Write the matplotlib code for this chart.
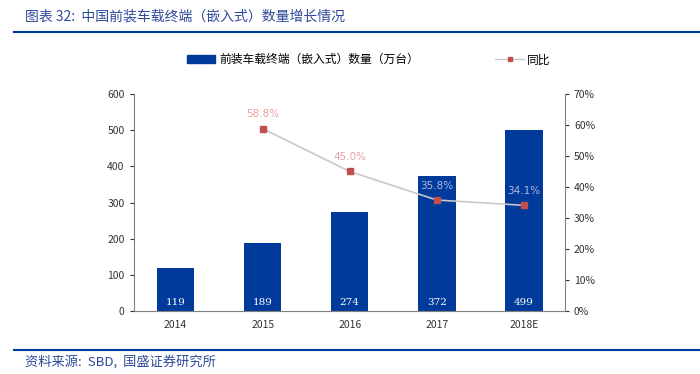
import numpy as np
import matplotlib.pyplot as plt
from matplotlib.patches import Patch
from matplotlib.lines import Line2D

plt.rcParams['font.family'] = ['Noto Sans CJK SC', 'DejaVu Sans']

years = ['2014', '2015', '2016', '2017', '2018E']
volume = [119, 189, 274, 372, 499]
yoy = [None, 58.8, 45.0, 35.8, 34.1]

bar_c = '#003A9B'
fig = plt.figure(figsize=(7, 3.74), dpi=100)
ax = fig.add_axes([0.191, 0.168, 0.616, 0.581])

x = np.arange(len(years))
ax.bar(x, volume, width=0.43, color=bar_c, zorder=2)
for i, v in enumerate(volume):
    ax.text(x[i], 12, str(v), ha='center', va='bottom', color='white', fontsize=7.5,
            family='DejaVu Serif')

ax.set_ylim(0, 600)
ax.set_yticks(range(0, 601, 100))
ax.set_xlim(-0.48, len(years) - 0.53)
ax.set_xticks(x)
ax.set_xticklabels(years)
for s in ['top', 'right']:
    ax.spines[s].set_visible(False)
for s in ['left', 'bottom']:
    ax.spines[s].set_color('#808080')
ax.tick_params(axis='both', labelsize=7.5, colors='#333333', length=3)
ax.tick_params(axis='x', length=0, pad=6)

ax2 = ax.twinx()
xs = x[1:]
ys = np.array(yoy[1:], dtype=float)
ax2.plot(xs, ys, color='#C8C8C8', lw=1.2, marker='s', markersize=4,
         markerfacecolor='#C0504D', markeredgecolor='#C0504D', zorder=3)
lab_c = ['#E8A0A0', '#E8A0A0', '#B0B8E0', '#B0B8E0']
for xi, yi, c in zip(xs, ys, lab_c):
    ax2.text(xi, yi + 3, f'{yi:.1f}%', ha='center', va='bottom', fontsize=7.5,
             color=c, family='DejaVu Sans')
ax2.set_ylim(0, 70)
ax2.set_yticks(range(0, 71, 10))
ax2.set_yticklabels([f'{v}%' for v in range(0, 71, 10)])
for s in ['top', 'left', 'bottom']:
    ax2.spines[s].set_visible(False)
ax2.spines['right'].set_color('#808080')
ax2.tick_params(axis='y', labelsize=7.5, colors='#333333', length=3)

handles = [Patch(color=bar_c),
           Line2D([0], [0], color='#C8C8C8', lw=1, marker='s', markersize=3,
                  markerfacecolor='#C0504D', markeredgecolor='#C0504D')]
fig.legend(handles, ['前装车载终端（嵌入式）数量（万台）', '同比'],
           loc='center', bbox_to_anchor=(0.527, 0.84), ncol=2, frameon=False,
           fontsize=8.5, handlelength=2.4, handletextpad=0.3, columnspacing=6.5)

fig.text(0.035, 0.955, '图表 32:  中国前装车载终端（嵌入式）数量增长情况', fontsize=10,
         color='#2E4A9A', va='center', style='italic')
fig.add_artist(Line2D([0.02, 1.0], [0.915, 0.915], color='#003A9B', lw=1.5))
fig.add_artist(Line2D([0.02, 1.0], [0.065, 0.065], color='#003A9B', lw=1.5))
fig.text(0.035, 0.032, '资料来源:  SBD,  国盛证券研究所', fontsize=9.5, color='#2E4A9A',
         va='center', style='italic')

fig.savefig('out.png', dpi=100)
